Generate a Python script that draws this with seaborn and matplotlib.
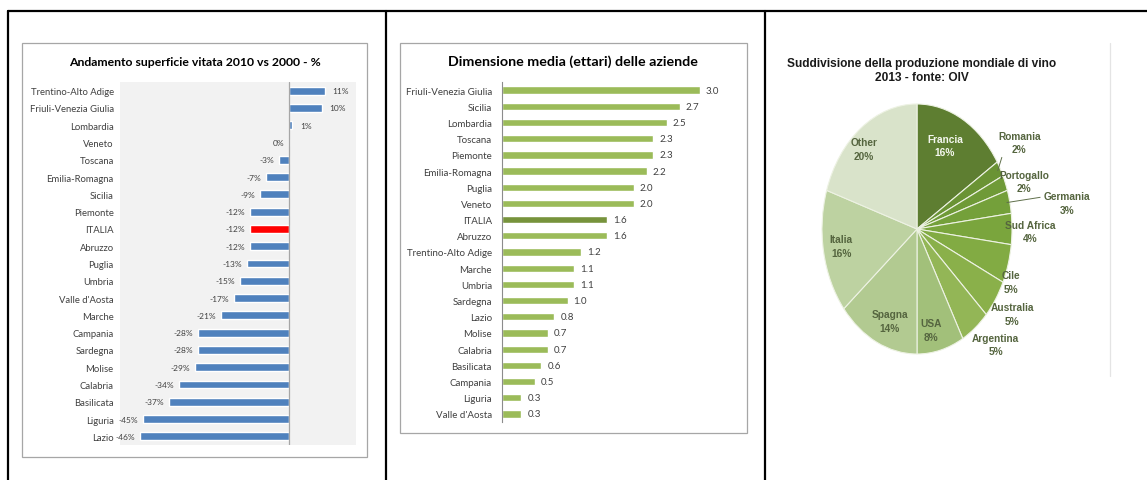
import numpy as np
import matplotlib
matplotlib.use('Agg')
import matplotlib.pyplot as plt
import pandas as pd
import seaborn as sns
from matplotlib import font_manager
from matplotlib.lines import Line2D
from matplotlib.patches import Rectangle


# data
regions_area = ['Trentino-Alto Adige', 'Friuli-Venezia Giulia', 'Lombardia', 'Veneto', 'Toscana',
                'Emilia-Romagna', 'Sicilia', 'Piemonte', 'ITALIA', 'Abruzzo', 'Puglia', 'Umbria',
                "Valle d'Aosta", 'Marche', 'Campania', 'Sardegna', 'Molise', 'Calabria',
                'Basilicata', 'Liguria', 'Lazio']
area_change = [11, 10, 1, 0, -3, -7, -9, -12, -12, -12, -13, -15, -17, -21, -28, -28, -29, -34,
               -37, -45, -46]

regions_size = ['Friuli-Venezia Giulia', 'Sicilia', 'Lombardia', 'Toscana', 'Piemonte',
                'Emilia-Romagna', 'Puglia', 'Veneto', 'ITALIA', 'Abruzzo', 'Trentino-Alto Adige',
                'Marche', 'Umbria', 'Sardegna', 'Lazio', 'Molise', 'Calabria', 'Basilicata',
                'Campania', 'Liguria', "Valle d'Aosta"]
farm_size = [3.0, 2.7, 2.5, 2.3, 2.3, 2.2, 2.0, 2.0, 1.6, 1.6, 1.2, 1.1, 1.1, 1.0, 0.8, 0.7, 0.7,
             0.6, 0.5, 0.3, 0.3]

countries = ['Francia', 'Romania', 'Portogallo', 'Germania', 'Sud Africa', 'Cile', 'Australia',
             'Argentina', 'USA', 'Spagna', 'Italia', 'Other']
wine_share = [16, 2, 2, 3, 4, 5, 5, 5, 8, 14, 16, 20]

title_area = 'Andamento superficie vitata 2010 vs 2000 - %'
title_size = 'Dimensione media (ettari) delle aziende'
title_wine = 'Suddivisione della produzione mondiale di vino\n2013 - fonte: OIV'


W, H = 1147, 481

sns.set_theme(style='white')
plt.rcParams['font.family'] = ['Lato', 'DejaVu Sans']

names = {f.name for f in font_manager.fontManager.ttflist}
pie_font = 'Liberation Sans Narrow' if 'Liberation Sans Narrow' in names else 'Liberation Sans'


def fig_rect(x0, y0, x1, y1):
    # pixel box (top-left origin) -> figure fraction rect
    return [x0 / W, 1 - y1 / H, (x1 - x0) / W, (y1 - y0) / H]


def fx(x):
    return x / W


def fy(y):
    return 1 - y / H


fig = plt.figure(figsize=(W / 100, H / 100), dpi=100)
fig.patch.set_facecolor('white')

# table lines
for x in [8, 386, 765]:
    fig.add_artist(Line2D([fx(x), fx(x)], [fy(12), 0], color='black', lw=1.6))
fig.add_artist(Line2D([fx(8), 1], [fy(12), fy(12)], color='black', lw=1.6))

# chart frames
for x0, y0, x1, y1 in [(22, 44, 367, 458), (400, 44, 747, 434)]:
    fig.add_artist(Rectangle((fx(x0), fy(y1)), (x1 - x0) / W, (y1 - y0) / H,
                             transform=fig.transFigure, fill=False, edgecolor='#A6A6A6', lw=0.9))
fig.add_artist(Line2D([fx(1110), fx(1110)], [fy(44), fy(377)], color='#E4E4E4', lw=0.9))

text_color = '#404040'

# Chart 1: change of vineyard area
ax1 = fig.add_axes(fig_rect(120, 83, 356, 446))
df1 = pd.DataFrame({'region': regions_area, 'change': area_change})
colors1 = ['#FF0000' if r == 'ITALIA' else '#4F81BD' for r in regions_area]
sns.barplot(data=df1, x='change', y='region', hue='region', palette=colors1, legend=False,
            orient='h', width=0.45, saturation=1, ax=ax1)
ax1.set_facecolor('#F2F2F2')
ax1.set_xlim(-52, 20.6)
ax1.axvline(0, color='#A6A6A6', lw=0.9)
for s in ax1.spines.values():
    s.set_visible(False)
ax1.set_xticks([])
ax1.set_xlabel('')
ax1.set_ylabel('')
ax1.tick_params(axis='y', length=0, pad=4.5, labelsize=6.8, labelcolor=text_color)
for i, v in enumerate(area_change):
    if v > 0:
        ax1.annotate(f'{v}%', (v, i), xytext=(5.5, 0), textcoords='offset points',
                     ha='left', va='center', fontsize=6, color=text_color)
    else:
        ax1.annotate(f'{v}%', (v, i), xytext=(-3.5, 0), textcoords='offset points',
                     ha='right', va='center', fontsize=6, color=text_color)
fig.text(fx(195), fy(63), title_area, ha='center', va='center', fontsize=8.8,
         fontweight='bold', color='black')

# Chart 2: average farm size
ax2 = fig.add_axes(fig_rect(501.7, 83, 726, 423))
df2 = pd.DataFrame({'region': regions_size, 'size': farm_size})
colors2 = ['#77933C' if r == 'ITALIA' else '#9BBB59' for r in regions_size]
sns.barplot(data=df2, x='size', y='region', hue='region', palette=colors2, legend=False,
            orient='h', width=0.45, saturation=1, ax=ax2)
ax2.set_xlim(0, 3.4)
for side in ['top', 'right', 'bottom']:
    ax2.spines[side].set_visible(False)
ax2.spines['left'].set_color('#8C8C8C')
ax2.spines['left'].set_linewidth(0.8)
ax2.set_xticks([])
ax2.set_xlabel('')
ax2.set_ylabel('')
ax2.tick_params(axis='y', length=0, pad=7, labelsize=7, labelcolor=text_color)
for i, v in enumerate(farm_size):
    ax2.annotate(f'{v:.1f}', (v, i), xytext=(4.3, 0), textcoords='offset points',
                 ha='left', va='center', fontsize=7, color=text_color)
fig.text(fx(573), fy(62), title_size, ha='center', va='center', fontsize=10.3,
         fontweight='bold', color='black')

# Chart 3: world wine production pie
pie_colors = ['#5E7E31', '#6A9334', '#6F9A37', '#74A03A', '#7AA53D', '#82AB43', '#8AB04A',
              '#93B656', '#A2C07A', '#B2CA91', '#BDD2A1', '#D9E3CA']
label_r = [0.73, 1.28, 1.19, 1.59, 1.19, 1.08, 1.21, 1.24, 0.82, 0.79, 0.81, 0.85]
label_dt = [5, 4, -3, -5, -1, -7, 0, 4, -4, 4, -1, 5]
leader = {'Romania': (0.15, 0.2), 'Germania': (0.0, 0.75)}

k = 1.8
cx, cy, rx, ry = 917, 230, 95, 125
ax3 = fig.add_axes(fig_rect(cx - rx * k, cy - ry * k, cx + rx * k, cy + ry * k))
wedges, _ = ax3.pie(wine_share, colors=pie_colors, startangle=90, counterclock=False,
                    wedgeprops=dict(edgecolor='#EDF2E3', linewidth=0.8))
ax3.set_aspect('auto')
ax3.set_xlim(-k, k)
ax3.set_ylim(-k, k)
ax3.axis('off')

for w, name, share, r, dt in zip(wedges, countries, wine_share, label_r, label_dt):
    mid = (w.theta1 + w.theta2) / 2
    ang = np.deg2rad(mid + dt)
    pos = (r * np.cos(ang), r * np.sin(ang))
    col = '#F4F7EE' if name == 'Francia' else '#55653F'
    label = f'{name}\n{share}%'
    if name in leader:
        m = np.deg2rad(mid)
        ax3.annotate(label, xy=(0.97 * np.cos(m), 0.97 * np.sin(m)), xytext=pos,
                     ha='center', va='center', fontsize=7.3, fontweight='bold', color=col,
                     family=pie_font, linespacing=1.45,
                     arrowprops=dict(arrowstyle='-', color='#5F6F4A', lw=0.7,
                                     relpos=leader[name], shrinkA=0, shrinkB=0))
    else:
        ax3.text(pos[0], pos[1], label, ha='center', va='center', fontsize=7.3,
                 fontweight='bold', color=col, family=pie_font, linespacing=1.45)

fig.text(fx(922), fy(71), title_wine, ha='center', va='center', fontsize=8.6,
         fontweight='bold', color='#1A1A1A', family=pie_font, linespacing=1.3)

fig.savefig('out.png', dpi=100)
